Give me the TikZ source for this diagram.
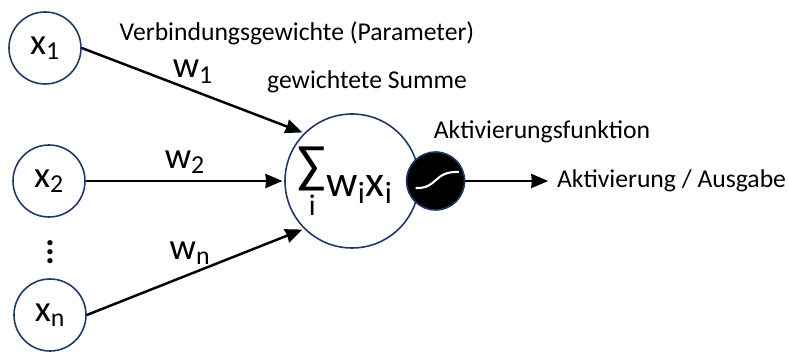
\documentclass[tikz,border=0pt]{standalone}
\usepackage{fontspec}
\setmainfont{Carlito}
\usepackage{amsmath}
\usetikzlibrary{arrows.meta, positioning}
\usetikzlibrary{calc}

\definecolor{kreis}{RGB}{31,56,100}

\begin{document}
\begin{tikzpicture}
        \useasboundingbox (0,0) rectangle (15.78,-7.08);
        \begin{scope}[->,>={Stealth[inset=0.4pt,length=3.4mm,width=2.8mm]},shorten >=1pt,auto,line width=1.4pt,
          main node/.style={circle,draw=kreis,line width=0.9pt,fill=white,minimum size=1.44cm,inner sep=0pt,font=\fontsize{21}{23}\selectfont},
          sum node/.style={circle,draw=kreis,line width=0.9pt,fill=white,minimum size=2.68cm,inner sep=0pt,font=\fontsize{25}{28}\selectfont},
          act node/.style={circle,draw=kreis,line width=0.9pt,fill=black,minimum size=1.16cm,inner sep=0pt}]
        \node[main node] (1) at (0.9,-0.96) {x\textsubscript{1}};
        \node[main node] (2) at (0.98,-3.62) {x\textsubscript{2}};
        \node[main node] (3) at (1.0,-6.3) {x\textsubscript{n}};
        \node[align=center,font=\bfseries\fontsize{20}{5.2pt}\selectfont] (dots) at (1.0,-5.04) {.\\.\\.};
        \node[sum node] (sum) at (7.04,-3.62) {\hspace*{-0.3em}\raisebox{-0.42em}{\shortstack{\fontsize{30}{30}\selectfont ∑\\[-1pt]\fontsize{17}{17}\selectfont i}}w\textsubscript{i}x\textsubscript{i}};
        \node[act node] (act) [right=-0.28cm of sum] {};
        \draw[white,line width=1.2pt,-] ($(act)+(-0.4,-0.14)$) .. controls ($(act)+(0.05,-0.16)$) and ($(act)+(-0.05,0.2)$) .. ($(act)+(0.5,0.18)$);
        \node[right,font=\fontsize{14.6}{17}\selectfont] (aus) at (11.0,-3.62) {Aktivierung / Ausgabe};
        \path[every node/.style={font=\fontsize{21}{23}\selectfont}]
        (1.east) edge node[above] {w\textsubscript{1}} (sum.135)
        (2.east) edge node[above] {w\textsubscript{2}} (sum.west)
        (3.east) edge node[above,xshift=-3pt] {w\textsubscript{n}} (sum.225)
        (act) edge (aus);
        \end{scope}
        \node[font=\fontsize{14.6}{17}\selectfont] (param) at (5.94,-0.66) {Verbindungsgewichte (Parameter)};
        \node[font=\fontsize{14.6}{17}\selectfont] (summe) at (7.34,-1.64) {gewichtete Summe};
        \node[font=\fontsize{14.6}{17}\selectfont] (fkt) at (10.84,-2.64) {Aktivierungsfunktion};
    \end{tikzpicture}
\end{document}
